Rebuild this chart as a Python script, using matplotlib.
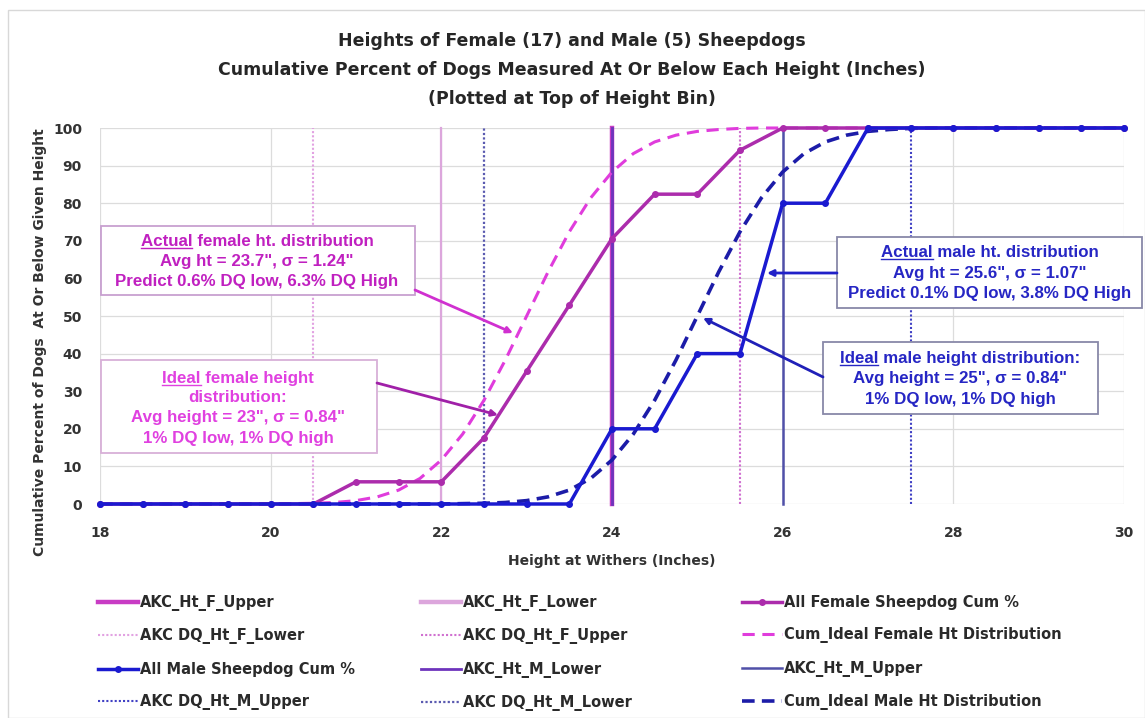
import numpy as np
import matplotlib.pyplot as plt
from matplotlib.lines import Line2D
from matplotlib.patches import Rectangle

plt.rcParams['font.family'] = ['DejaVu Sans']

# bin tops (inches) and cumulative percent of dogs measured
heights = [18, 18.5, 19, 19.5, 20, 20.5, 21, 21.5, 22, 22.5, 23, 23.5, 24,
           24.5, 25, 25.5, 26, 26.5, 27, 27.5, 28, 28.5, 29, 29.5, 30]
female_cum = [0, 0, 0, 0, 0, 0, 5.9, 5.9, 5.9, 17.6, 35.3, 52.9, 70.6,
              82.4, 82.4, 94.1, 100, 100, 100, 100, 100, 100, 100, 100, 100]
male_cum = [0, 0, 0, 0, 0, 0, 0, 0, 0, 0, 0, 0, 20,
            20, 40, 40, 80, 80, 100, 100, 100, 100, 100, 100, 100]

# ideal (normal) cumulative curves
ideal_f_x = [18, 20, 20.25, 20.5, 20.75, 21, 21.25, 21.5, 21.75, 22, 22.25, 22.5, 22.75,
             23, 23.25, 23.5, 23.75, 24, 24.25, 24.5, 24.75, 25, 25.25, 25.5, 25.75, 26, 30]
ideal_m_x = [18, 22, 22.25, 22.5, 22.75, 23, 23.25, 23.5, 23.75, 24, 24.25, 24.5, 24.75,
             25, 25.25, 25.5, 25.75, 26, 26.25, 26.5, 26.75, 27, 27.25, 27.5, 27.75, 28, 30]
ideal_f = [0, 0, 0.1, 0.2, 0.4, 0.9, 1.9, 3.7, 6.8, 11.7, 18.6, 27.6, 38.3,
           50, 61.7, 72.4, 81.4, 88.3, 93.2, 96.3, 98.1, 99.1, 99.6, 99.9, 100, 100, 100]
ideal_m = [0, 0, 0.1, 0.2, 0.4, 0.9, 1.9, 3.7, 6.8, 11.7, 18.6, 27.6, 38.3,
           50, 61.7, 72.4, 81.4, 88.3, 93.2, 96.3, 98.1, 99.1, 99.6, 99.9, 100, 100, 100]

# AKC standard heights and disqualification limits
akc_f_lower, akc_f_upper = 22, 24
akc_m_lower, akc_m_upper = 24, 26
dq_f_lower, dq_f_upper = 20.5, 25.5
dq_m_lower, dq_m_upper = 22.5, 27.5

W, H = 1145, 718
fig = plt.figure(figsize=(W / 100, H / 100), dpi=100)
ax = fig.add_axes([100 / W, 1 - 504 / H, 1024 / W, 376 / H])
ax.set_xlim(18, 30)
ax.set_ylim(0, 100)


def px(x, y):
    # pixel position in the picture -> data coords (annotation layout only)
    return 18 + (x - 100) / 1024 * 12, (504 - y) / 376 * 100


dot = (0, (1, 1))
vl = dict(clip_on=False)
l_fu, = ax.plot([akc_f_upper] * 2, [0, 100], color='#c83cc4', lw=3.2, label='AKC_Ht_F_Upper', zorder=2, **vl)
l_fl, = ax.plot([akc_f_lower] * 2, [0, 100], color='#dca6dc', lw=1.6, label='AKC_Ht_F_Lower', zorder=2, **vl)
l_dfl, = ax.plot([dq_f_lower] * 2, [0, 100], color='#e2a2e2', lw=1.5, ls=dot, label='AKC DQ_Ht_F_Lower', zorder=2, **vl)
l_dfu, = ax.plot([dq_f_upper] * 2, [0, 100], color='#d070d0', lw=1.5, ls=dot, label='AKC DQ_Ht_F_Upper', zorder=2, **vl)
l_ml, = ax.plot([akc_m_lower] * 2, [0, 100], color='#6e34bc', lw=2, label='AKC_Ht_M_Lower', zorder=2, **vl)
l_mu, = ax.plot([akc_m_upper] * 2, [0, 100], color='#5050a8', lw=1.8, label='AKC_Ht_M_Upper', zorder=2, **vl)
l_dmu, = ax.plot([dq_m_upper] * 2, [0, 100], color='#4040c4', lw=1.5, ls=dot, label='AKC DQ_Ht_M_Upper', zorder=2, **vl)
l_dml, = ax.plot([dq_m_lower] * 2, [0, 100], color='#5a5ab0', lw=1.6, ls=dot, label='AKC DQ_Ht_M_Lower', zorder=2, **vl)

l_if, = ax.plot(ideal_f_x, ideal_f, color='#e03cdc', lw=2.2, ls=(0, (4, 2.5)),
                label='Cum_Ideal Female Ht Distribution', zorder=3, clip_on=False)
l_im, = ax.plot(ideal_m_x, ideal_m, color='#1c1ca8', lw=2.6, ls=(0, (3.5, 2)),
                label='Cum_Ideal Male Ht Distribution', zorder=3, clip_on=False)
l_f, = ax.plot(heights, female_cum, color='#ac2cac', lw=2.5, marker='o', ms=4,
               label='All Female Sheepdog Cum %', zorder=4, clip_on=False)
l_m, = ax.plot(heights, male_cum, color='#1a1ad0', lw=2.5, marker='o', ms=4,
               label='All Male Sheepdog Cum %', zorder=5, clip_on=False)

ax.set_xticks(range(18, 31, 2))
ax.set_yticks(range(0, 101, 10))
ax.grid(color='#dcdcdc', lw=0.9)
ax.set_axisbelow(True)
for s in ax.spines.values():
    s.set_visible(False)
ax.tick_params(length=0, labelsize=10, colors='#333333')
ax.tick_params(axis='x', pad=16)
ax.tick_params(axis='y', pad=13)
for lab in ax.get_xticklabels() + ax.get_yticklabels():
    lab.set_fontweight('bold')

title_kw = dict(ha='center', va='center', fontsize=12.5, fontweight='bold', color='#262626')
fig.text(572 / W, 1 - 41 / H, 'Heights of Female (17) and Male (5) Sheepdogs', **title_kw)
fig.text(572 / W, 1 - 70 / H, 'Cumulative Percent of Dogs Measured At Or Below Each Height (Inches)', **title_kw)
fig.text(572 / W, 1 - 99 / H, '(Plotted at Top of Height Bin)', **title_kw)
fig.text(612 / W, 1 - 561 / H, 'Height at Withers (Inches)', ha='center', va='center',
         fontsize=10, fontweight='bold', color='#333333')
fig.text(40 / W, 1 - 342 / H, 'Cumulative Percent of Dogs  At Or Below Given Height',
         ha='center', va='center', rotation=90, fontsize=10, fontweight='bold', color='#333333')

# annotation boxes
boxfont = dict(family=['Liberation Sans', 'DejaVu Sans'], fontweight='bold', fontsize=12.2)
boxes = [
    ((101, 226, 415, 295), '#c8a0d0', '#c020c0', 257,
     ['Actual female ht. distribution', 'Avg ht = 23.7", σ = 1.24"', 'Predict 0.6% DQ low, 6.3% DQ High'],
     [246, 266, 286], 'Actual'),
    ((101, 360, 377, 453), '#d8b0d8', '#e040e0', 238,
     ['Ideal female height', 'distribution:', 'Avg height = 23", σ = 0.84"', '1% DQ low, 1% DQ high'],
     [383, 402, 422, 443], 'Ideal'),
    ((837, 237, 1142, 308), '#8888a8', '#2626c4', 990,
     ['Actual male ht. distribution', 'Avg ht = 25.6", σ = 1.07"', 'Predict 0.1% DQ low, 3.8% DQ High'],
     [257, 278, 298], 'Actual'),
    ((823, 342, 1098, 414), '#8888a8', '#2626c4', 960,
     ['Ideal male height distribution:', 'Avg height = 25", σ = 0.84"', '1% DQ low, 1% DQ high'],
     [363, 383, 404], 'Ideal'),
]
first_lines = []
for (x0, y0, x1, y1), ec, tc, cx, lines, bases, word in boxes:
    a0, b0 = px(x0, y1)
    a1, b1 = px(x1, y0)
    ax.add_patch(Rectangle((a0, b0), a1 - a0, b1 - b0, fc='white', ec=ec, lw=1.3,
                           zorder=6, clip_on=False))
    for i, (txt, by) in enumerate(zip(lines, bases)):
        t = ax.text(*px(cx, by), txt, ha='center', va='baseline', color=tc, zorder=7, **boxfont)
        if i == 0:
            first_lines.append((t, word, tc))

arrows = [
    ((415, 290), (513, 333), '#d030d0'),
    ((377, 383), (498, 415), '#a020a8'),
    ((837, 273), (767, 273), '#2020c8'),
    ((823, 377), (703, 318), '#2020b8'),
]
for start, tip, c in arrows:
    ax.annotate('', xy=px(*tip), xytext=px(*start),
                arrowprops=dict(arrowstyle='-|>', color=c, lw=2, mutation_scale=9,
                                shrinkA=0, shrinkB=0), zorder=8, annotation_clip=False)

# legend, three columns filled row by row
cols = [[l_fu, l_dfl, l_m, l_dmu], [l_fl, l_dfu, l_ml, l_dml], [l_f, l_if, l_mu, l_im]]
col_x = [98, 421, 742]
for hs, x in zip(cols, col_x):
    leg = fig.legend(handles=hs, loc='upper left', bbox_to_anchor=(x / W, 1 - 595 / H),
                     frameon=False, fontsize=10.5, handlelength=2.75, handletextpad=0.15,
                     labelspacing=1.19, borderpad=0, borderaxespad=0)
    for t in leg.get_texts():
        t.set_color('#2a2a2a')
        t.set_fontweight('bold')
    for h, src in zip(leg.legend_handles, hs):
        if src is l_fl:
            h.set_linewidth(3.2)

# underline first word of each box title
fig.canvas.draw()
r = fig.canvas.get_renderer()
for t, word, c in first_lines:
    bb = t.get_window_extent(r)
    tmp = fig.text(0, 0, word, fontproperties=t.get_fontproperties())
    w = tmp.get_window_extent(r).width
    tmp.remove()
    yb = ax.transData.transform(t.get_position())[1] - 2
    fig.add_artist(Line2D([bb.x0 / W, (bb.x0 + w) / W], [yb / H, yb / H],
                          transform=fig.transFigure, color=c, lw=1, zorder=9))

fig.add_artist(Rectangle((8 / W, 0), 1 - 8 / W, 1 - 10 / H, transform=fig.transFigure,
                         fill=False, ec='#d8d8d8', lw=1))

fig.savefig('out.png', dpi=100)
